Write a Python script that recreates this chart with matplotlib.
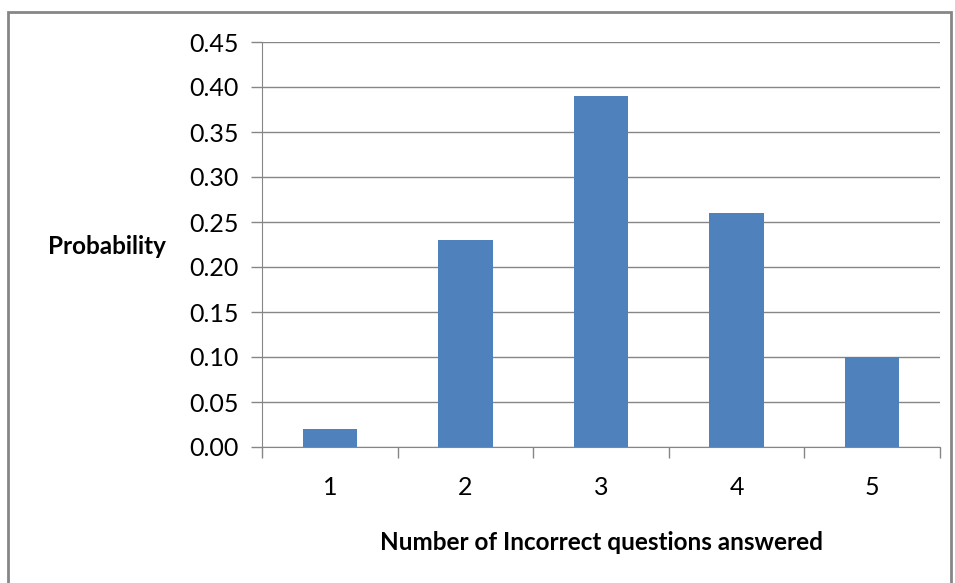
import matplotlib.pyplot as plt
from matplotlib.patches import Rectangle

categories = ['1', '2', '3', '4', '5']
probabilities = [0.02, 0.23, 0.39, 0.26, 0.10]
y_ticks = [0.00, 0.05, 0.10, 0.15, 0.20, 0.25, 0.30, 0.35, 0.40, 0.45]

plt.rcParams['font.family'] = ['Lato', 'DejaVu Sans']

W, H = 955, 583
fig = plt.figure(figsize=(W / 100, H / 100), dpi=100)

# outer chart border (bottom runs off the image)
fig.patches.append(Rectangle((8 / W, -0.05), (951 - 8) / W, 1.05 - 12 / H,
                             transform=fig.transFigure, fill=False,
                             edgecolor='#868686', linewidth=2))

ax = fig.add_axes([262 / W, 1 - 447 / H, (940 - 262) / W, (447 - 42) / H])

x = range(len(categories))
ax.bar(x, probabilities, width=0.4, color='#4F81BD', zorder=3)

ax.set_xlim(-0.5, len(categories) - 0.5)
ax.set_ylim(0, 0.45)
ax.set_yticks(y_ticks)
ax.set_yticklabels(['{:.2f}'.format(v) for v in y_ticks], fontsize=18)
ax.yaxis.grid(True, color='#868686', linewidth=1)
ax.set_axisbelow(True)

ax.set_xticks([i - 0.5 for i in range(len(categories) + 1)])
ax.set_xticklabels([])
ax.set_xticks(list(x), minor=True)
ax.set_xticklabels(categories, minor=True, fontsize=18)
ax.tick_params(axis='x', which='major', length=8, color='#868686', width=1)
ax.tick_params(axis='x', which='minor', length=0, pad=21)
ax.tick_params(axis='y', length=8, color='#868686', width=1, pad=9)

for side in ['top', 'right']:
    ax.spines[side].set_visible(False)
for side in ['left', 'bottom']:
    ax.spines[side].set_color('#868686')

fig.text(601 / W, 1 - 542 / H, 'Number of Incorrect questions answered',
         ha='center', va='center', fontsize=17.5, fontweight='bold')
fig.text(107 / W, 1 - 247 / H, 'Probability',
         ha='center', va='center', fontsize=17.5, fontweight='bold')

fig.savefig('out.png', dpi=100)
